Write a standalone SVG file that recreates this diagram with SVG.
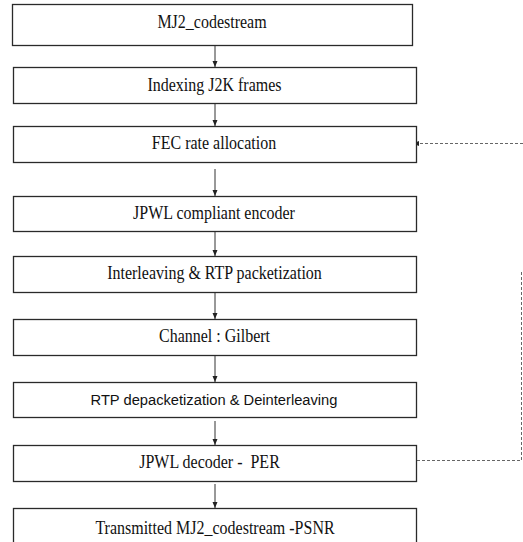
<svg xmlns="http://www.w3.org/2000/svg" width="523" height="542" viewBox="0 0 523 542">
<style>
.box{fill:#fff;stroke:#2a2a2a;stroke-width:1.3}
.c{stroke:#333;stroke-width:1;fill:none}
.d{stroke:#666;stroke-width:1;fill:none;stroke-dasharray:3 2}
</style>
<defs>
<marker id="ah" viewBox="0 0 6 6" refX="6" refY="3" markerWidth="6" markerHeight="6" markerUnits="userSpaceOnUse" orient="auto">
<path d="M0,0.5 L6,3 L0,5.5 z" fill="#222"/>
</marker>
</defs>
<g id="connectors">
<line class="c" x1="215" y1="45" x2="215" y2="67" marker-end="url(#ah)"/>
<line class="c" x1="215" y1="104" x2="215" y2="126" marker-end="url(#ah)"/>
<line class="c" x1="215" y1="169" x2="215" y2="196" marker-end="url(#ah)"/>
<line class="c" x1="215" y1="232" x2="215" y2="256" marker-end="url(#ah)"/>
<line class="c" x1="215" y1="293" x2="215" y2="319" marker-end="url(#ah)"/>
<line class="c" x1="215" y1="356" x2="215" y2="382" marker-end="url(#ah)"/>
<line class="c" x1="215" y1="421" x2="215" y2="445" marker-end="url(#ah)"/>
<line class="c" x1="215" y1="484" x2="215" y2="508" marker-end="url(#ah)"/>
<path class="d" d="M417,460.5 H521.5 V272"/>
<line class="d" x1="523" y1="143.5" x2="413" y2="143.5" marker-end="url(#ah)"/>
</g>
<g font-family="Liberation Serif" font-size="16" fill="#111" text-anchor="middle">
<g id="n1"><rect class="box" x="12.5" y="4.5" width="400" height="41"/><text transform="translate(212,28.3) scale(1,1.18)">MJ2_codestream</text></g>
<g id="n2"><rect class="box" x="13.5" y="67.5" width="403" height="36"/><text transform="translate(214.5,90.7) scale(1,1.18)">Indexing J2K frames</text></g>
<g id="n3"><rect class="box" x="13.5" y="126.5" width="403" height="36"/><text transform="translate(214,149.3) scale(1,1.18)">FEC rate allocation</text></g>
<g id="n4"><rect class="box" x="13.5" y="196.5" width="403" height="35"/><text transform="translate(214,219.3) scale(1,1.18)">JPWL compliant encoder</text></g>
<g id="n5"><rect class="box" x="13.5" y="256.5" width="403" height="36"/><text transform="translate(214.5,279.3) scale(1,1.18)">Interleaving &amp; RTP packetization</text></g>
<g id="n6"><rect class="box" x="13.5" y="319.5" width="403" height="36"/><text transform="translate(214.5,341.7) scale(1,1.18)">Channel : Gilbert</text></g>
<g id="n7"><rect class="box" x="13.5" y="382.5" width="403" height="35"/><text font-family="Liberation Sans" font-size="14.7" transform="translate(214,405) scale(1,1.05)">RTP depacketization &amp; Deinterleaving</text></g>
<g id="n8"><rect class="box" x="13.5" y="445.5" width="403" height="36"/><text xml:space="preserve" transform="translate(209.5,468.3) scale(1,1.18)">JPWL decoder -  PER</text></g>
<g id="n9"><rect class="box" x="13.5" y="508.5" width="403" height="40"/><text transform="translate(215,534.3) scale(1,1.18)">Transmitted MJ2_codestream -PSNR</text></g>
</g>
</svg>
